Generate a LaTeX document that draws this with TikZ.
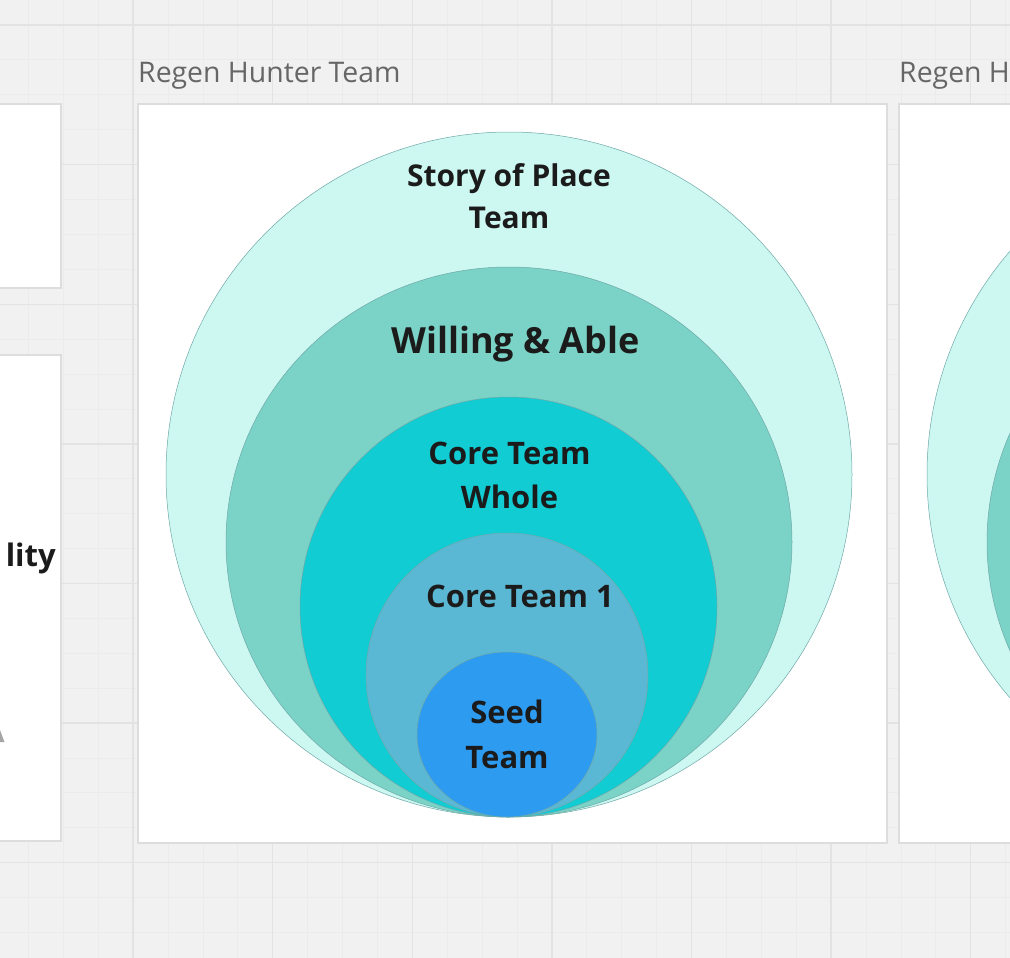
\documentclass[tikz,border=0pt]{standalone}
\usepackage{fontspec}
\setmainfont{Open Sans}
\usetikzlibrary{shapes.geometric}
\definecolor{bgc}{HTML}{F1F1F1}
\definecolor{gridmaj}{HTML}{E3E3E3}
\definecolor{gridmin}{HTML}{EBEBEB}
\definecolor{framec}{HTML}{DDDDDD}
\definecolor{titlec}{HTML}{666666}
\definecolor{labelc}{HTML}{1B1B1B}
\definecolor{c1}{HTML}{CDF8F2}
\definecolor{c2}{HTML}{7AD3C6}
\definecolor{c3}{HTML}{12CCD4}
\definecolor{c4}{HTML}{5BB8D4}
\definecolor{c5}{HTML}{2D9BF0}
\definecolor{ringline}{HTML}{6FA8A8}
\tikzset{
  minorgrid/.style={draw=gridmin, line width=0.8pt},
  majorgrid/.style={draw=gridmaj, line width=1.4pt},
  framebox/.style={fill=white, draw=framec, line width=1.5pt},
  frametitle/.style={text=titlec, font=\fontsize{28.4}{32}\selectfont, inner sep=0pt},
  ring/.style={ellipse, draw=ringline, line width=0.5pt, inner sep=0pt},
  lbl/.style={text=labelc, font=\bfseries\fontsize{31}{44}\selectfont, align=center, inner sep=0pt},
  biglbl/.style={text=labelc, font=\bfseries\fontsize{36}{40}\selectfont, align=center, inner sep=0pt},
  teamframe/.pic={
    \draw[framebox] (138,104) rectangle (887,843);
    \node[frametitle, anchor=base west] (-title) at (138,83) {Regen Hunter Team};
    \node[ring, fill=c1, minimum width=686pt, minimum height=685pt] (-story) at (509,474.5) {};
    \node[ring, fill=c2, minimum width=566pt, minimum height=550pt] (-willing) at (509,542) {};
    \node[ring, fill=c3, minimum width=417pt, minimum height=420pt] (-whole) at (508.5,607) {};
    \node[ring, fill=c4, minimum width=282pt, minimum height=284pt] (-core) at (507,675) {};
    \node[ring, fill=c5, minimum width=180pt, minimum height=165pt] (-seed) at (507,734.5) {};
    \node[lbl, font=\bfseries\fontsize{30}{42}\selectfont, anchor=base] (-storyt) at (509,228) {Story of Place\\Team};
    \node[biglbl, anchor=base] (-willingt) at (515.5,353) {Willing \& Able};
    \node[lbl, anchor=base] (-wholet) at (509.5,508) {Core Team\\Whole};
    \node[lbl, anchor=base] (-coret) at (520,607) {Core Team 1};
    \node[lbl, font=\bfseries\fontsize{31}{45}\selectfont, anchor=base] (-seedt) at (507,768) {Seed\\Team};
  }
}
\begin{document}
\begin{tikzpicture}[x=1pt,y=-1pt]
\useasboundingbox (0,0) rectangle (1010,958);
\clip (0,0) rectangle (1010,958);
\fill[bgc] (0,0) rectangle (1010,958);
% minor grid
\foreach \i in {0,...,29} {
  \draw[minorgrid] ({-6.5+34.9*\i},0) -- ({-6.5+34.9*\i},958);
  \draw[minorgrid] (0,{-9.9+34.9*\i}) -- (1010,{-9.9+34.9*\i});
}
% major grid
\foreach \i in {0,...,7} {
  \draw[majorgrid] ({-6.5+139.6*\i},0) -- ({-6.5+139.6*\i},958);
  \draw[majorgrid] (0,{25+139.6*\i}) -- (1010,{25+139.6*\i});
}
% partial frames on the left
\draw[framebox] (-10,104) rectangle (61,288);
\draw[framebox] (-10,355) rectangle (61,841);
\node[lbl, anchor=base east] (lity) at (56,566) {lity};
\fill[gray!70] (0,730) -- (4.5,742) -- (0,742) -- cycle;
% main and right frames
\pic (m) at (0,0) {teamframe};
\pic (r) at (761,0) {teamframe};
\end{tikzpicture}
\end{document}
